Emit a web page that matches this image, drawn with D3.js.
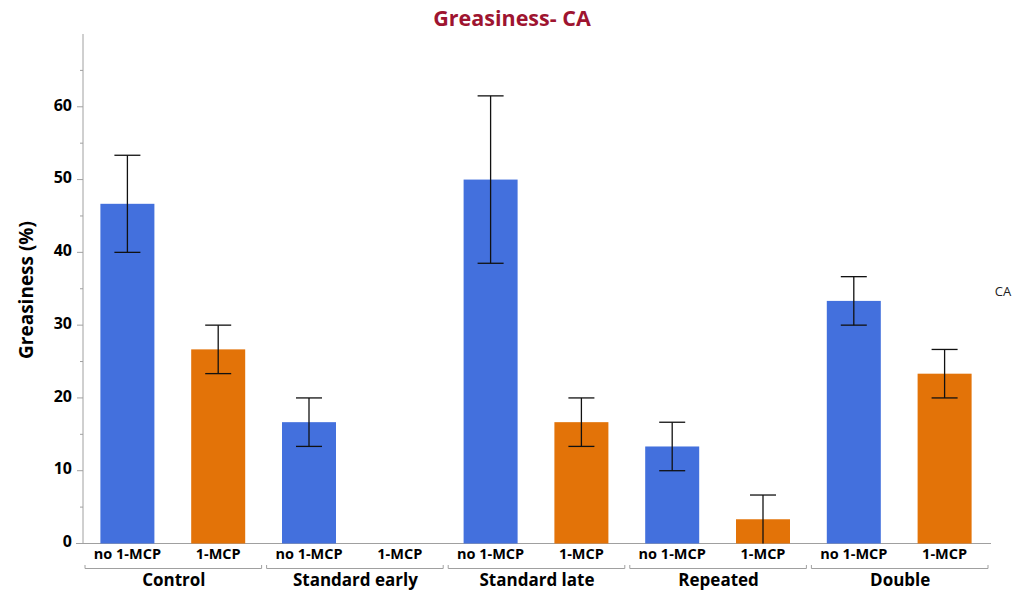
<!DOCTYPE html>
<html>
<head>
<meta charset="utf-8">
<script src="https://cdn.jsdelivr.net/npm/d3@7"></script>
<style>
  body { margin: 0; background: #fff; }
  text { font-family: "Open Sans", "Noto Sans", sans-serif; }
</style>
</head>
<body>
<div id="chart"></div>
<script>
(function () {
  // data
  const groups = ["Control", "Standard early", "Standard late", "Repeated", "Double"];
  const treatments = ["no 1-MCP", "1-MCP"];
  const means = [
    [46.67, 26.67],
    [16.67, 0],
    [50.0, 16.67],
    [13.33, 3.33],
    [33.33, 23.33]
  ];
  const errs = [
    [6.67, 3.33],
    [3.33, 0],
    [11.5, 3.33],
    [3.33, 3.33],
    [3.33, 3.33]
  ];
  const yTicks = [0, 10, 20, 30, 40, 50, 60];
  const yMinor = [5, 15, 25, 35, 45, 55, 65];
  const colors = ["#4370dd", "#e37308"];

  const W = 1015, H = 593;
  const left = 83, right = 991, top = 34, bottom = 543.5;

  const svg = d3.select("#chart").append("svg")
    .attr("width", W)
    .attr("height", H);

  const x0 = d3.scaleBand().domain(groups).range([left, right]);
  const x1 = d3.scaleBand().domain(treatments).range([0, x0.bandwidth()]);
  const y = d3.scaleLinear().domain([0, 70]).range([bottom, top]);
  const barW = 54;

  // title
  svg.append("text")
    .attr("x", 512).attr("y", 26)
    .attr("text-anchor", "middle")
    .attr("fill", "#9e1430")
    .attr("font-weight", "bold")
    .attr("font-size", 21.5)
    .text("Greasiness- CA");

  // y axis
  svg.append("line")
    .attr("x1", left).attr("x2", left)
    .attr("y1", top).attr("y2", bottom)
    .attr("stroke", "#a0a0a0");

  svg.selectAll(".ymaj").data(yTicks).enter().append("line")
    .attr("x1", left - 6).attr("x2", left)
    .attr("y1", d => y(d)).attr("y2", d => y(d))
    .attr("stroke", "#a0a0a0");

  svg.selectAll(".ymin").data(yMinor).enter().append("line")
    .attr("x1", left - 3).attr("x2", left)
    .attr("y1", d => y(d)).attr("y2", d => y(d))
    .attr("stroke", "#a0a0a0");

  svg.selectAll(".ylab").data(yTicks).enter().append("text")
    .attr("x", left - 11)
    .attr("y", d => y(d) - 2)
    .attr("dy", "0.36em")
    .attr("text-anchor", "end")
    .attr("font-weight", "bold")
    .attr("font-size", 16)
    .text(d => d);

  svg.append("text")
    .attr("transform", "translate(33," + 290 + ") rotate(-90)")
    .attr("text-anchor", "middle")
    .attr("font-weight", "bold")
    .attr("font-size", 19)
    .text("Greasiness (%)");

  // x baseline
  svg.append("line")
    .attr("x1", left - 7).attr("x2", right)
    .attr("y1", bottom).attr("y2", bottom)
    .attr("stroke", "#a0a0a0");

  // bars
  const cells = [];
  groups.forEach((g, gi) => {
    treatments.forEach((t, ti) => {
      cells.push({ g, t, ti, v: means[gi][ti], e: errs[gi][ti] });
    });
  });
  const cx = d => x0(d.g) + x1(d.t) + x1.bandwidth() / 2 - 1;

  svg.selectAll(".bar").data(cells.filter(d => d.v > 0)).enter().append("rect")
    .attr("x", d => cx(d) - barW / 2)
    .attr("width", barW)
    .attr("y", d => y(d.v))
    .attr("height", d => y(0) - y(d.v))
    .attr("fill", d => colors[d.ti]);

  // error bars
  const eb = svg.selectAll(".err").data(cells.filter(d => d.v > 0)).enter().append("g")
    .attr("stroke", "#111")
    .attr("stroke-width", 1.3);
  eb.append("line")
    .attr("x1", cx).attr("x2", cx)
    .attr("y1", d => y(d.v + d.e)).attr("y2", d => y(Math.max(0, d.v - d.e)));
  eb.append("line")
    .attr("x1", d => cx(d) - 13).attr("x2", d => cx(d) + 13)
    .attr("y1", d => y(d.v + d.e)).attr("y2", d => y(d.v + d.e));
  eb.filter(d => d.v - d.e > 0).append("line")
    .attr("x1", d => cx(d) - 13).attr("x2", d => cx(d) + 13)
    .attr("y1", d => y(d.v - d.e)).attr("y2", d => y(d.v - d.e));

  // sub labels
  svg.selectAll(".tlab").data(cells).enter().append("text")
    .attr("x", cx)
    .attr("y", 559)
    .attr("text-anchor", "middle")
    .attr("font-weight", "bold")
    .attr("font-size", 14.5)
    .text(d => d.t);

  // group brackets
  svg.selectAll(".brk").data(groups).enter().append("path")
    .attr("d", g => {
      const a = x0(g) + 2, b = x0(g) + x0.bandwidth() - 3;
      return "M" + a + ",565 V568.5 H" + b + " V565";
    })
    .attr("fill", "none")
    .attr("stroke", "#a0a0a0");

  svg.selectAll(".glab").data(groups).enter().append("text")
    .attr("x", g => x0(g) + x0.bandwidth() / 2)
    .attr("y", 586)
    .attr("text-anchor", "middle")
    .attr("font-weight", "bold")
    .attr("font-size", 17)
    .text(g => g);

  // right side label
  svg.append("text")
    .attr("x", 1003).attr("y", 296)
    .attr("text-anchor", "middle")
    .attr("font-size", 13)
    .attr("fill", "#222")
    .text("CA");
})()
</script>
</body>
</html>
